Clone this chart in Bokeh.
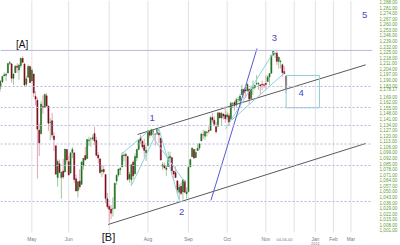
from bokeh.plotting import figure
from bokeh.models import FixedTicker, NumeralTickFormatter, Span, ColumnDataSource
from bokeh.core.properties import value
from bokeh.embed import file_html
from bokeh.resources import INLINE

# ---- daily OHLC (trading-day index 0 = first session shown, early April) ----
opens = [1178.7, 1186.0, 1188.2, 1181.8, 1187.5, 1194.9, 1195.9, 1198.7, 1210.8, 1210.2,
         1192.1, 1199.0, 1207.2, 1202.5, 1207.9, 1217.1, 1209.9, 1184.6, 1193.3, 1206.8,
         1188.6, 1197.5, 1169.2, 1164.4, 1127.0, 1122.3, 1156.4, 1155.4, 1170.0, 1157.2,
         1136.5, 1138.8, 1119.6, 1107.3, 1067.3, 1084.8, 1067.4, 1075.5, 1074.3, 1102.6,
         1087.3, 1073.0, 1098.8, 1098.4, 1065.8, 1050.8, 1062.8, 1058.8, 1082.7, 1095.0,
         1091.2, 1114.0, 1116.0, 1116.2, 1122.8, 1113.9, 1095.6, 1090.9, 1075.1, 1077.5,
         1071.1, 1040.6, 1031.1, 1027.7, 1028.1, 1028.5, 1062.9, 1070.5, 1077.2, 1080.7,
         1095.6, 1094.5, 1093.9, 1066.0, 1064.5, 1086.7, 1072.1, 1092.2, 1102.9, 1117.4,
         1112.8, 1108.1, 1098.4, 1107.5, 1125.3, 1121.1, 1125.8, 1122.1, 1122.8, 1122.9,
         1116.9, 1081.5, 1082.2, 1077.5, 1081.2, 1092.1, 1092.4, 1075.6, 1073.4, 1063.2,
         1049.0, 1056.3, 1049.3, 1062.9, 1046.9, 1049.7, 1080.7, 1093.6, 1102.6, 1092.4,
         1101.2, 1104.6, 1113.4, 1121.2, 1119.4, 1123.9, 1126.4, 1126.6, 1142.8, 1139.5,
         1131.1, 1131.7, 1148.6, 1142.3, 1146.8, 1146.0, 1143.5, 1145.0, 1140.7, 1159.8,
         1161.6, 1158.4, 1165.3, 1164.3, 1171.3, 1177.8, 1177.5, 1176.8, 1178.6, 1166.7,
         1179.6, 1180.5, 1184.7, 1184.9, 1183.8, 1184.5, 1183.9, 1185.7, 1187.9, 1193.8,
         1198.3, 1221.2, 1223.2, 1223.6, 1213.1, 1213.0, 1209.1, 1200.4, 1194.8]
highs = [1187.7, 1191.8, 1189.6, 1188.6, 1194.7, 1199.2, 1199.0, 1210.7, 1213.9, 1210.2,
         1197.9, 1208.6, 1211.0, 1210.3, 1217.3, 1219.8, 1211.4, 1195.1, 1209.4, 1208.0,
         1205.1, 1197.5, 1175.9, 1167.6, 1135.1, 1163.9, 1170.5, 1172.9, 1173.6, 1157.2,
         1141.9, 1148.7, 1124.3, 1107.3, 1090.2, 1089.9, 1074.7, 1090.8, 1103.5, 1102.6,
         1094.8, 1098.6, 1105.7, 1098.4, 1071.3, 1063.2, 1077.7, 1087.9, 1092.0, 1105.9,
         1115.6, 1118.7, 1117.7, 1121.0, 1131.2, 1118.5, 1099.6, 1090.9, 1083.6, 1082.6,
         1071.1, 1048.1, 1033.6, 1033.0, 1042.5, 1060.9, 1071.3, 1078.2, 1080.8, 1099.5,
         1099.1, 1098.7, 1093.9, 1074.7, 1083.9, 1089.0, 1097.5, 1103.7, 1115.0, 1121.0,
         1114.7, 1115.9, 1106.4, 1127.3, 1125.4, 1128.7, 1126.6, 1123.1, 1129.2, 1127.2,
         1116.9, 1086.7, 1086.3, 1082.6, 1100.1, 1099.8, 1092.4, 1075.6, 1081.6, 1063.2,
         1059.4, 1061.5, 1065.2, 1064.4, 1055.1, 1081.3, 1090.1, 1105.1, 1102.6, 1103.3,
         1110.3, 1110.9, 1123.9, 1127.4, 1126.5, 1125.4, 1131.5, 1144.9, 1148.6, 1144.4,
         1136.8, 1148.9, 1149.9, 1150.0, 1148.6, 1157.2, 1150.3, 1148.2, 1162.8, 1162.3,
         1163.9, 1167.7, 1168.7, 1172.6, 1184.4, 1178.9, 1181.2, 1185.5, 1178.6, 1182.9,
         1189.4, 1184.0, 1196.1, 1187.1, 1183.8, 1189.5, 1185.6, 1195.8, 1195.9, 1198.3,
         1221.3, 1227.1, 1224.6, 1226.8, 1218.8, 1215.5, 1210.5, 1207.4, 1194.8]
lows = [1178.7, 1182.8, 1177.3, 1175.1, 1186.0, 1194.7, 1188.8, 1198.7, 1208.5, 1186.8,
        1183.7, 1199.0, 1198.9, 1190.2, 1205.1, 1211.1, 1181.6, 1181.8, 1193.3, 1186.3,
        1188.6, 1168.1, 1158.2, 1065.8, 1094.2, 1122.3, 1147.7, 1155.4, 1156.1, 1126.1,
        1114.0, 1117.2, 1100.7, 1071.6, 1055.9, 1072.7, 1040.8, 1065.6, 1074.3, 1084.8,
        1069.9, 1072.5, 1091.8, 1060.5, 1049.9, 1042.2, 1052.3, 1058.8, 1077.5, 1089.0,
        1091.2, 1107.1, 1105.9, 1113.9, 1108.2, 1094.2, 1085.3, 1071.6, 1067.9, 1071.4,
        1035.2, 1028.3, 1010.9, 1015.0, 1018.4, 1028.5, 1058.2, 1068.1, 1070.5, 1080.7,
        1087.7, 1080.5, 1063.3, 1061.1, 1056.9, 1065.3, 1072.1, 1087.9, 1101.3, 1109.8,
        1103.1, 1092.8, 1088.0, 1107.5, 1116.8, 1119.5, 1118.9, 1107.2, 1120.9, 1111.0,
        1088.6, 1076.7, 1079.0, 1069.5, 1081.2, 1085.8, 1070.7, 1063.9, 1067.1, 1046.7,
        1039.8, 1045.4, 1039.7, 1048.8, 1040.9, 1049.7, 1080.4, 1093.6, 1091.2, 1092.4,
        1101.2, 1101.7, 1113.4, 1115.6, 1114.6, 1118.9, 1122.4, 1126.6, 1136.2, 1131.6,
        1122.8, 1131.7, 1142.0, 1132.1, 1140.3, 1136.1, 1139.4, 1131.9, 1140.7, 1154.9,
        1151.4, 1155.6, 1162.0, 1155.7, 1171.3, 1166.7, 1167.1, 1174.6, 1159.7, 1166.7,
        1171.2, 1178.0, 1184.7, 1177.7, 1171.7, 1177.1, 1179.8, 1177.6, 1187.9, 1183.6,
        1198.3, 1220.3, 1217.6, 1208.9, 1204.3, 1204.5, 1194.1, 1197.2, 1173.0]
closes = [1187.4, 1189.4, 1182.4, 1186.4, 1194.4, 1196.5, 1197.3, 1210.6, 1211.7, 1192.1,
          1197.5, 1207.2, 1205.9, 1208.7, 1217.3, 1212.1, 1183.7, 1191.4, 1206.8, 1186.7,
          1202.3, 1173.6, 1165.9, 1128.2, 1110.9, 1159.7, 1155.8, 1171.7, 1157.4, 1135.7,
          1136.9, 1120.8, 1115.1, 1071.6, 1087.7, 1073.7, 1074.0, 1068.0, 1103.1, 1089.4,
          1070.7, 1098.4, 1102.8, 1064.9, 1050.5, 1062.0, 1055.7, 1086.8, 1091.6, 1089.6,
          1115.2, 1114.6, 1116.0, 1117.5, 1113.2, 1095.3, 1092.0, 1073.7, 1076.8, 1074.6,
          1041.2, 1030.7, 1027.4, 1022.6, 1028.1, 1060.3, 1070.3, 1078.0, 1078.8, 1095.3,
          1095.2, 1096.5, 1064.9, 1071.3, 1083.5, 1069.6, 1093.7, 1102.7, 1115.0, 1113.8,
          1106.1, 1101.5, 1101.6, 1125.9, 1120.5, 1127.2, 1125.8, 1121.6, 1127.8, 1121.1,
          1089.5, 1083.6, 1079.3, 1079.4, 1092.5, 1094.2, 1075.6, 1071.7, 1067.4, 1051.9,
          1055.3, 1047.2, 1064.6, 1048.9, 1049.3, 1080.3, 1090.1, 1104.5, 1091.8, 1098.9,
          1104.2, 1109.6, 1121.9, 1121.1, 1125.1, 1124.7, 1125.6, 1142.7, 1139.8, 1134.3,
          1124.8, 1148.7, 1142.2, 1147.7, 1144.7, 1141.2, 1146.2, 1137.0, 1160.8, 1160.0,
          1158.1, 1165.2, 1165.3, 1169.8, 1178.1, 1173.8, 1176.2, 1184.7, 1165.9, 1178.2,
          1180.3, 1183.1, 1185.6, 1185.6, 1182.4, 1183.8, 1183.3, 1184.4, 1193.6, 1198.0,
          1221.1, 1225.9, 1223.3, 1213.4, 1218.7, 1213.5, 1199.2, 1197.8, 1178.17]

# ---- axes ----
month_ticks = [20, 40, 62, 83, 105, 126, 147, 162.4, 173.9, 183.7, 193.2]
month_labels = ["May", "Jun", "", "Aug", "Sep", "Oct", "Nov", "", "Jan", "Feb", "Mar"]
price_ticks = [t for t in range(1001, 1289, 7) if t != 1176] + [closes[-1]]
date_text = ["04-06-00", "2011"]
date_x = [157.1, 173.9]
date_y = [989.6, 984.6]
label_row_price = 989.6      # price level where the month names sit
grid_bottom_price = 998.4    # bottom of the plotted price area

# ---- annotations (data coordinates: trading-day index, price) ----
dashed_levels = [1181.8, 1155.4, 1132.8, 1109.5, 1082.5, 1037.3]
top_level = 1227.1
channel_x0 = [77.4, 61.4]
channel_y0 = [1121.5, 1008.4]
channel_x1 = [201.2, 201.2]
channel_y1 = [1209.0, 1110.2]
blue_x0, blue_y0, blue_x1, blue_y1 = [117.2], [1038.6], [142.2], [1229.5]
cyan_x0 = [68.5, 74.2, 88.9, 85.3, 125.2, 128.7]
cyan_y0 = [1096.6, 1058.2, 1129.2, 1119.2, 1128.6, 1139.9]
cyan_x1 = [84.4, 88.9, 100.4, 103.1, 151.4, 157.1]
cyan_y1 = [1127.8, 1129.2, 1035.9, 1061.3, 1225.4, 1198.8]
box_left, box_right, box_bottom, box_top = 158.0, 176.1, 1155.0, 1195.6
wave_text = ["1", "2", "3", "4", "5"]
wave_x = [85.3, 101.3, 151.7, 166.1, 200.6]
wave_y = [1141.6, 1024.7, 1243.3, 1174.2, 1272.2]
corr_text = ["[A]", "[B]"]
corr_x = [14.7, 61.6]
corr_y = [1234.5, 993.3]

idx = list(range(len(closes)))
up = [c >= o for o, c in zip(opens, closes)]
src = ColumnDataSource(dict(
    x=idx, o=opens, h=highs, l=lows, c=closes,
    top=[max(o, c) for o, c in zip(opens, closes)],
    bot=[min(o, c) for o, c in zip(opens, closes)],
    body=["#1f6f1f" if u else "#7a0c1c" for u in up],
    wick=["#9cc89c" if u else "#e4a6b0" for u in up],
))

p = figure(width=400, height=245, output_backend="svg", toolbar_location=None,
           x_range=(2.98, 204.9), y_range=(982.0, 1289.8),
           y_axis_location="right", x_axis_location=None,
           min_border_left=0, min_border_top=0, min_border_right=20, min_border_bottom=0)
p.outline_line_color = None
p.background_fill_color = "white"
p.xgrid.visible = False
p.ygrid.visible = False

# vertical month grid lines, ending above the date row
p.segment(x0=month_ticks, y0=[grid_bottom_price] * len(month_ticks),
          x1=month_ticks, y1=[1289.8] * len(month_ticks),
          line_color="#e2e2e2", line_width=1)

for lv in dashed_levels:
    p.add_layout(Span(location=lv, dimension="width", line_color="#b4b4de",
                      line_dash="2 2", line_width=1))
p.add_layout(Span(location=top_level, dimension="width", line_color="#b8b8dc", line_width=1))

# candles
p.segment(x0="x", y0="l", x1="x", y1="h", source=src, line_color="wick", line_width=1)
p.vbar(x="x", top="top", bottom="bot", width=0.6, source=src,
       fill_color="body", line_color="body", line_width=0.5)

# channels and wave lines
p.segment(x0=channel_x0, y0=channel_y0, x1=channel_x1, y1=channel_y1,
          line_color="#5a5a5a", line_width=1)
p.segment(x0=cyan_x0, y0=cyan_y0, x1=cyan_x1, y1=cyan_y1,
          line_color="#8fd3da", line_width=1)
p.segment(x0=blue_x0, y0=blue_y0, x1=blue_x1, y1=blue_y1,
          line_color="#5a5ad2", line_width=1)
p.quad(left=[box_left], right=[box_right], bottom=[box_bottom], top=[box_top],
       fill_color=None, line_color="#8fcfd6", line_width=1)

# wave labels
p.text(x=wave_x, y=wave_y, text=wave_text, text_color="#4848c4",
       text_font=value("Liberation Sans"), text_font_size="9.5px",
       text_align="center", text_baseline="middle")
p.text(x=corr_x[:1], y=corr_y[:1], text=corr_text[:1], text_color="#111111",
       text_font=value("Liberation Sans"), text_font_size="10px",
       text_align="center", text_baseline="middle")
p.text(x=corr_x[1:], y=corr_y[1:], text=corr_text[1:], text_color="#111111",
       text_font=value("Liberation Sans"), text_font_size="11px",
       text_align="center", text_baseline="middle")

# month names and date labels along the bottom
p.text(x=month_ticks, y=[label_row_price] * len(month_ticks), text=month_labels,
       text_color="#777777", text_font=value("Liberation Sans"), text_font_size="4.8px",
       text_align="center", text_baseline="middle")
p.text(x=date_x, y=date_y, text=date_text,
       text_color="#777777", text_font=value("Liberation Sans"), text_font_size="4px",
       text_align="center", text_baseline="middle")

# price axis
p.yaxis.ticker = FixedTicker(ticks=price_ticks)
p.yaxis.formatter = NumeralTickFormatter(format="0,0.00")
p.yaxis.axis_line_color = None
p.yaxis.major_tick_line_color = None
p.yaxis.minor_tick_line_color = None
p.yaxis.major_label_standoff = 1
p.yaxis.major_label_text_font = "Liberation Sans"
p.yaxis.major_label_text_font_size = "4.6px"
p.yaxis.major_label_text_color = "#5f9c38"

open("out.html", "w").write(file_html(p, INLINE))
